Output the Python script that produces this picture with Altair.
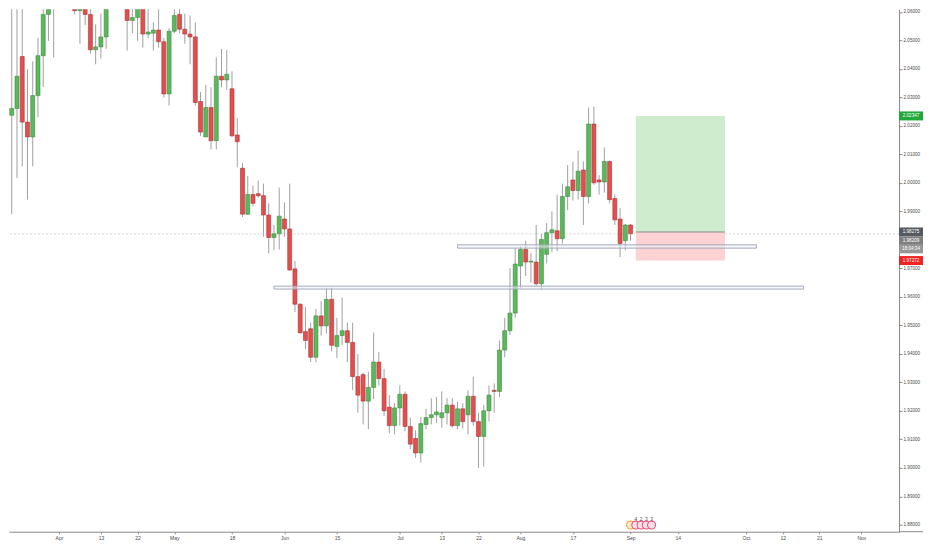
import numpy as np
import pandas as pd
import altair as alt

# ---------------- data (GBP/NZD daily) ----------------
first_day = "2020-03-17"
last_day = "2020-09-01"
anchor_day = "2020-04-01"

opens = [2.0278, 2.0268, 2.0237, 2.0261, 2.0443, 2.0213, 2.0161, 2.0306, 2.0446, 2.0591,
         2.0700, 2.0660, 2.0740, 2.0690, 2.0680, 2.0604, 2.0640, 2.0591, 2.0467, 2.0477,
         2.0512, 2.0630, 2.0690, 2.0660, 2.0650, 2.0570, 2.0580, 2.0630, 2.0522, 2.0525,
         2.0536, 2.0495, 2.0312, 2.0532, 2.0591, 2.0539, 2.0522, 2.0512, 2.0285, 2.0161,
         2.0264, 2.0148, 2.0374, 2.0361, 2.0330, 2.0168, 2.0051, 1.9890, 1.9959, 1.9962,
         1.9955, 1.9887, 1.9808, 1.9821, 1.9873, 1.9838, 1.9698, 1.9574, 1.9478, 1.9488,
         1.9388, 1.9533, 1.9498, 1.9591, 1.9426, 1.9464, 1.9481, 1.9440, 1.9320, 1.9327,
         1.9234, 1.9282, 1.9371, 1.9313, 1.9213, 1.9148, 1.9210, 1.9258, 1.9145, 1.9103,
         1.9052, 1.9152, 1.9176, 1.9186, 1.9176, 1.9193, 1.9220, 1.9148, 1.9207, 1.9186,
         1.9251, 1.9162, 1.9110, 1.9200, 1.9272, 1.9268, 1.9413, 1.9481, 1.9543, 1.9708,
         1.9766, 1.9722, 1.9722, 1.9646, 1.9749, 1.9825, 1.9832, 1.9804, 1.9952, 2.0010,
         1.9973, 2.0045, 1.9952, 2.0206, 2.0010, 2.0003, 2.0075, 1.9945, 1.9873, 1.9797,
         1.9852]
highs = [2.0395, 2.0532, 2.0625, 2.0640, 2.0640, 2.0398, 2.0426, 2.0508, 2.0640, 2.0680,
         2.0760, 2.0790, 2.0800, 2.0760, 2.0720, 2.0670, 2.0660, 2.0620, 2.0556, 2.0594,
         2.0650, 2.0720, 2.0740, 2.0700, 2.0680, 2.0620, 2.0650, 2.0660, 2.0618, 2.0563,
         2.0618, 2.0508, 2.0543, 2.0618, 2.0620, 2.0594, 2.0587, 2.0563, 2.0319, 2.0343,
         2.0336, 2.0440, 2.0470, 2.0467, 2.0391, 2.0227, 2.0069, 2.0024, 1.9990, 2.0007,
         1.9997, 1.9928, 1.9852, 1.9983, 1.9931, 1.9997, 1.9725, 1.9577, 1.9564, 1.9509,
         1.9557, 1.9584, 1.9632, 1.9632, 1.9526, 1.9598, 1.9509, 1.9509, 1.9399, 1.9334,
         1.9337, 1.9474, 1.9406, 1.9347, 1.9255, 1.9227, 1.9289, 1.9268, 1.9176, 1.9131,
         1.9179, 1.9207, 1.9244, 1.9248, 1.9268, 1.9244, 1.9244, 1.9231, 1.9227, 1.9272,
         1.9320, 1.9193, 1.9220, 1.9289, 1.9296, 1.9447, 1.9526, 1.9701, 1.9770, 1.9777,
         1.9797, 1.9753, 1.9852, 1.9821, 1.9859, 1.9900, 1.9959, 1.9997, 2.0062, 2.0075,
         2.0113, 2.0075, 2.0264, 2.0268, 2.0027, 2.0124, 2.0078, 1.9959, 1.9911, 1.9856,
         1.9856]
lows = [2.0075, 1.9887, 1.9890, 2.0017, 2.0058, 1.9941, 2.0058, 2.0230, 2.0336, 2.0498,
        2.0440, 2.0630, 2.0650, 2.0640, 2.0591, 2.0488, 2.0553, 2.0453, 2.0416, 2.0436,
        2.0470, 2.0625, 2.0640, 2.0630, 2.0464, 2.0525, 2.0498, 2.0474, 2.0508, 2.0464,
        2.0474, 2.0299, 2.0271, 2.0525, 2.0525, 2.0488, 2.0416, 2.0271, 2.0165, 2.0161,
        2.0117, 2.0117, 2.0336, 2.0326, 2.0161, 2.0055, 1.9880, 1.9887, 1.9918, 1.9948,
        1.9811, 1.9753, 1.9763, 1.9766, 1.9811, 1.9691, 1.9547, 1.9470, 1.9416, 1.9371,
        1.9371, 1.9464, 1.9471, 1.9409, 1.9385, 1.9430, 1.9371, 1.9272, 1.9193, 1.9152,
        1.9135, 1.9241, 1.9289, 1.9182, 1.9121, 1.9117, 1.9148, 1.9128, 1.9066, 1.9035,
        1.9018, 1.9135, 1.9152, 1.9158, 1.9141, 1.9152, 1.9141, 1.9135, 1.9138, 1.9117,
        1.9148, 1.9000, 1.9004, 1.9162, 1.9193, 1.9248, 1.9388, 1.9467, 1.9526, 1.9629,
        1.9673, 1.9650, 1.9639, 1.9625, 1.9718, 1.9756, 1.9760, 1.9787, 1.9904, 1.9938,
        1.9941, 1.9852, 1.9928, 1.9993, 1.9959, 1.9966, 1.9928, 1.9852, 1.9739, 1.9763,
        1.9797]
closes = [2.0271, 2.0237, 2.0261, 2.0374, 2.0213, 2.0161, 2.0306, 2.0446, 2.0591, 2.0640,
          2.0660, 2.0740, 2.0690, 2.0680, 2.0604, 2.0640, 2.0591, 2.0467, 2.0477, 2.0512,
          2.0630, 2.0690, 2.0660, 2.0650, 2.0570, 2.0580, 2.0630, 2.0522, 2.0529, 2.0536,
          2.0495, 2.0312, 2.0532, 2.0587, 2.0539, 2.0522, 2.0512, 2.0282, 2.0178, 2.0264,
          2.0148, 2.0374, 2.0361, 2.0381, 2.0165, 2.0144, 1.9890, 1.9959, 1.9928, 1.9955,
          1.9887, 1.9808, 1.9821, 1.9883, 1.9838, 1.9694, 1.9574, 1.9474, 1.9447, 1.9388,
          1.9533, 1.9498, 1.9591, 1.9430, 1.9464, 1.9481, 1.9440, 1.9320, 1.9255, 1.9234,
          1.9282, 1.9371, 1.9313, 1.9200, 1.9148, 1.9210, 1.9258, 1.9145, 1.9083, 1.9052,
          1.9155, 1.9176, 1.9186, 1.9196, 1.9193, 1.9220, 1.9148, 1.9207, 1.9162, 1.9251,
          1.9162, 1.9110, 1.9200, 1.9255, 1.9268, 1.9413, 1.9481, 1.9543, 1.9715, 1.9766,
          1.9722, 1.9725, 1.9646, 1.9801, 1.9825, 1.9835, 1.9804, 1.9952, 1.9986, 1.9973,
          2.0041, 1.9952, 2.0206, 2.0000, 2.0003, 2.0075, 1.9941, 1.9870, 1.9787, 1.9852,
          1.98209]

# time-axis labels (TradingView style, trading days only)
tick_days = ["2020-04-01", "2020-04-13", "2020-04-22", "2020-05-01", "2020-05-18",
             "2020-06-01", "2020-06-15", "2020-07-01", "2020-07-13", "2020-07-22",
             "2020-08-03", "2020-08-17", "2020-09-01", "2020-09-14", "2020-10-01",
             "2020-10-12", "2020-10-21", "2020-11-02"]
tick_labels = ["Apr", "13", "22", "May", "18", "Jun", "15", "Jul", "13", "22",
               "Aug", "17", "Sep", "14", "Oct", "12", "21", "Nov"]
price_ticks = [round(1.88 + 0.01 * k, 2) for k in range(19)]

# drawings: support / resistance zones (start day, end day, upper, lower price)
zone_start = ["2020-07-16", "2020-05-28"]
zone_end = ["2020-10-05", "2020-10-16"]
zone_top = [1.97825, 1.96375]
zone_bottom = [1.97708, 1.96272]
# long position tool
pos_start = "2020-09-02"
pos_end = "2020-09-25"
entry_price = 1.98275
target_price = 2.02347
stop_price = 1.97272
last_price = 1.98209
countdown = "18:04:34"

# event markers under the candles
event_days = ["2020-09-01", "2020-09-02", "2020-09-03", "2020-09-04", "2020-09-07"]
event_kind = ["orange", "pink", "pink", "pink", "pink"]
event_count = ["", "4", "2", "3", "3"]

# ---------------- helpers ----------------
a0 = np.datetime64(anchor_day)


def tidx(day):
    return int(np.busday_count(a0, np.datetime64(pd.Timestamp(day).date())))


UP, DOWN = "#5cb85c", "#e34f4f"
UP_S, DOWN_S = "#3b8a3e", "#a83434"

dates = pd.bdate_range(first_day, last_day)
candles = pd.DataFrame({"idx": [tidx(d) for d in dates], "open": opens, "high": highs,
                        "low": lows, "close": closes})
up = candles["close"] >= candles["open"]
candles["fillc"] = np.where(up, UP, DOWN)
candles["strokec"] = np.where(up, UP_S, DOWN_S)
candles["x1"] = candles["idx"] - 0.38
candles["x2"] = candles["idx"] + 0.38

tick_idx = [tidx(d) for d in tick_days]
label_expr = " : ".join(f"datum.value == {i} ? '{t}'" for i, t in zip(tick_idx, tick_labels)) + " : ''"

W, H = 891, 523
xs = alt.Scale(domain=[-9.524, 160.19], nice=False, zero=False)
ys = alt.Scale(domain=[1.87757, 2.06089], nice=False, zero=False)
FONT = "Liberation Sans"
AXC = "#8a8a8a"

xaxis = alt.Axis(values=tick_idx, labelExpr=label_expr, title=None, grid=False,
                 tickSize=2, labelPadding=2, labelFontSize=5, labelFont=FONT,
                 labelColor="#4a4a4a", domainColor=AXC, tickColor=AXC,
                 labelOverlap=False, labelFlush=False)
yaxis = alt.Axis(orient="right", values=price_ticks, format=".5f", title=None, grid=False,
                 tickSize=3, labelPadding=1, labelFontSize=4.6, labelFont=FONT,
                 labelColor="#4a4a4a", domainColor=AXC, tickColor=AXC,
                 labelOverlap=False, labelFlush=False)


def X(f):
    return alt.X(f, scale=xs, axis=xaxis)


def Y(f):
    return alt.Y(f, scale=ys, axis=yaxis)


# last-price line
pline = alt.Chart(pd.DataFrame({"p": [last_price]})).mark_rule(
    color="#d4d4d4", strokeWidth=1, strokeDash=[2, 2]).encode(y=Y("p:Q"))

# position tool
pos_df = pd.DataFrame({
    "x1": [tidx(pos_start)] * 2, "x2": [tidx(pos_end)] * 2,
    "p1": [target_price, entry_price], "p2": [entry_price, stop_price],
    "c": ["#cfeccf", "#fcd2d4"]})
pos_rect = alt.Chart(pos_df).mark_rect().encode(
    x=X("x1:Q"), x2="x2:Q", y=Y("p1:Q"), y2="p2:Q", color=alt.Color("c:N", scale=None))
entry_line = alt.Chart(pd.DataFrame({"x1": [tidx(pos_start)], "x2": [tidx(pos_end)],
                                     "p": [entry_price]})).mark_rule(
    color="#8c8c8c", strokeWidth=1).encode(x=X("x1:Q"), x2="x2:Q", y=Y("p:Q"))

# candles
wicks = alt.Chart(candles).mark_rule(color="#a0a0a0", strokeWidth=1, clip=True).encode(
    x=X("idx:Q"), y=Y("low:Q"), y2="high:Q")
bodies = alt.Chart(candles).mark_rect(strokeWidth=0.6, clip=True).encode(
    x=X("x1:Q"), x2="x2:Q", y=Y("open:Q"), y2="close:Q",
    fill=alt.Fill("fillc:N", scale=None), stroke=alt.Stroke("strokec:N", scale=None))

# zones
zones = pd.DataFrame({"x1": [tidx(d) for d in zone_start], "x2": [tidx(d) for d in zone_end],
                      "p1": zone_top, "p2": zone_bottom})
zone_rect = alt.Chart(zones).mark_rect(fill="#eef1f8", fillOpacity=0.55, stroke="#9ca3b5",
                                       strokeWidth=0.9).encode(
    x=X("x1:Q"), x2="x2:Q", y=Y("p1:Q"), y2="p2:Q")

# event markers near the bottom
ev_stroke = {"orange": "#f5a53c", "pink": "#e6557c"}
ev_fill = {"orange": "#fde8cc", "pink": "#fbe0e8"}
ev = pd.DataFrame({"idx": [tidx(d) for d in event_days], "kind": event_kind, "n": event_count})
ev["sc"] = ev["kind"].map(ev_stroke)
ev["fc"] = ev["kind"].map(ev_fill)
ev["p"] = 1.8799
ev["pt"] = 1.8822
ev_pts = alt.Chart(ev).mark_point(size=64, strokeWidth=1.1, opacity=1).encode(
    x=X("idx:Q"), y=Y("p:Q"),
    stroke=alt.Stroke("sc:N", scale=None), fill=alt.Fill("fc:N", scale=None))
ev_txt = alt.Chart(ev).mark_text(fontSize=5, font=FONT, color="#555555", baseline="middle").encode(
    x=X("idx:Q"), y=Y("pt:Q"), text="n:N")

# price-scale label boxes
box_h = 0.00315
lab_prices = [target_price, entry_price, last_price, None, stop_price]
lab_text = [f"{target_price:.5f}", f"{entry_price:.5f}", f"{last_price:.5f}", countdown, f"{stop_price:.5f}"]
lab_bg = ["#22a83a", "#56595f", "#7f7f7f", "#979797", "#f22222"]
pos = []
for i, p in enumerate(lab_prices):
    if p is None:
        pos.append(pos[-1] - box_h * 0.88)
    elif i == 0:
        pos.append(p)
    else:
        pos.append(min(p, pos[-1] - box_h))
labs = pd.DataFrame({"pos": pos, "t": lab_text, "bg": lab_bg})
labs["top"] = labs["pos"] + box_h / 2
labs["bot"] = labs["pos"] - box_h / 2
lab_box = alt.Chart(labs).mark_rect().encode(
    x=alt.value(W), x2=alt.value(W + 24), y=Y("top:Q"), y2="bot:Q",
    color=alt.Color("bg:N", scale=None))
lab_txt = alt.Chart(labs).mark_text(fontSize=4.6, font=FONT, color="white", align="center",
                                    baseline="middle").encode(
    x=alt.value(W + 12), y=Y("pos:Q"), text="t:N")

# time axis line continues under the price scale
axis_ext = alt.Chart(pd.DataFrame({"k": [0]})).mark_rule(color=AXC, strokeWidth=1).encode(
    x=alt.value(W), x2=alt.value(W + 24), y=alt.value(H))

chart = alt.layer(
    wicks, pline, pos_rect, entry_line, bodies, zone_rect, ev_pts, ev_txt, lab_box, lab_txt, axis_ext
).properties(width=W, height=H, padding=0, background="white").configure_view(stroke=None)

chart.save("out.html", embed_options={"renderer": "svg", "actions": False})
